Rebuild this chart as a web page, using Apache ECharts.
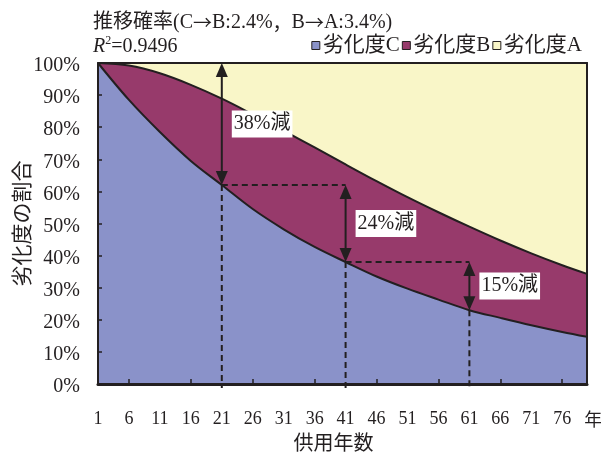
<!DOCTYPE html>
<html>
<head>
<meta charset="utf-8">
<script src="https://cdn.jsdelivr.net/npm/echarts@6/dist/echarts.min.js"></script>
<style>
  html, body { margin: 0; padding: 0; background: #fff; }
  #chart { width: 601px; height: 454px; }
</style>
</head>
<body>
<div id="chart"></div>
<script>
// 供用年数（年）
const years = [1, 6, 11, 16, 21, 26, 31, 36, 41, 46, 51, 56, 61, 66, 71, 76, 80];
// 劣化度ごとの割合（%）— 下から C, B, A の順に積み上げ
const gradeC = [100, 88.5, 78.5, 69.5, 62, 54.5, 48.2, 42.7, 38, 33.5, 29.7, 26.3, 23, 20.6, 18.3, 16.2, 14.7];
const gradeB = [0, 10.7, 18.3, 23.7, 26.9, 29.5, 30.7, 31.0, 30.4, 29.7, 28.5, 27.2, 26.0, 24.1, 22.4, 20.8, 19.6];
const gradeA = [0, 0.8, 3.2, 6.8, 11.1, 16.0, 21.1, 26.3, 31.6, 36.8, 41.8, 46.5, 51.0, 55.3, 59.3, 63.0, 65.7];
// 目盛ラベル
const xLabelYears = [1, 6, 11, 16, 21, 26, 31, 36, 41, 46, 51, 56, 61, 66, 71, 76];
const xTickYears = [6, 16, 26, 36, 46, 56, 66, 76];
// 劣化度Cの減少量を示す年
const markYears = [21, 41, 61];

const INK = '#231F20';
const SERIF = "'Liberation Serif', 'Noto Sans CJK JP', serif";
const CJK = "'Noto Sans CJK JP', 'Liberation Serif', sans-serif";

// 積み上げた上端（C, C+B, C+B+A）
const topC = gradeC.slice();
const topB = gradeC.map((v, i) => v + gradeB[i]);
const topA = topB.map((v, i) => v + gradeA[i]);
const pairs = arr => years.map((y, i) => [y, +arr[i].toFixed(2)]);

const levels = [100].concat(markYears.map(y => gradeC[years.indexOf(y)]));
const markData = markYears.map((y, i) => [
  y, levels[i], levels[i + 1], i < markYears.length - 1 ? markYears[i + 1] : y
]);

const chart = echarts.init(document.getElementById('chart'), null, { renderer: 'canvas' });

function areaSeries(name, data, fill, z) {
  return {
    name, type: 'line', data: pairs(data),
    smooth: 0.35, showSymbol: false, symbol: 'none', z,
    color: fill,
    itemStyle: { color: fill },
    lineStyle: { color: INK, width: 2 },
    areaStyle: { color: fill, opacity: 1, origin: 'start' },
    emphasis: { disabled: true }
  };
}

const dashed = { stroke: INK, lineWidth: 2, lineDash: [6, 4] };
const plain = { fontFamily: SERIF, fontSize: 20, fontWeight: 'normal', color: INK, lineHeight: 24 };

chart.setOption({
  animation: false,
  backgroundColor: '#fff',
  title: {
    left: 88, top: 6,
    text: '{a|推移確率(C}{r|→}{a|B:2.4%}{r|，}{a|B}{r|→}{a|A:3.4%)}\n{i|R}{s|2}{a|=0.9496}',
    textStyle: {
      fontWeight: 'normal',
      rich: {
        a: plain,
        r: Object.assign({}, plain, { fontFamily: CJK, fontSize: 19 }),
        i: Object.assign({}, plain, { fontStyle: 'italic' }),
        s: Object.assign({}, plain, { fontSize: 12, verticalAlign: 'top', padding: [0, 0, 8, 0] })
      }
    }
  },
  legend: {
    right: 14, top: 30,
    icon: 'rect', itemWidth: 8, itemHeight: 8, itemGap: 2,
    itemStyle: { borderColor: INK, borderWidth: 1 },
    textStyle: { fontFamily: SERIF, fontSize: 21, color: INK, padding: [0, 0, 0, -2] },
    data: ['劣化度C', '劣化度B', '劣化度A']
  },
  grid: { left: 98, right: 14, top: 63, bottom: 70, containLabel: false, outerBoundsMode: 'none' },
  xAxis: [{
    type: 'value', min: 1, max: 80, z: 10,
    name: '供用年数', nameLocation: 'middle', nameGap: 46,
    nameTextStyle: { fontFamily: CJK, fontSize: 20, color: INK, padding: [0, 18, 0, 0] },
    axisLine: { show: true, lineStyle: { color: INK, width: 3 } },
    axisTick: { show: true, inside: true, length: 5, customValues: xTickYears, lineStyle: { color: INK, width: 1.5 } },
    axisLabel: { customValues: xLabelYears, margin: 26, fontFamily: SERIF, fontSize: 18, color: INK },
    splitLine: { show: false }
  }, {
    type: 'value', min: 1, max: 80, position: 'top', z: 10,
    axisLine: { show: true, onZero: false, lineStyle: { color: INK, width: 2 } },
    axisTick: { show: false }, axisLabel: { show: false }, splitLine: { show: false }
  }],
  yAxis: [{
    type: 'value', min: 0, max: 100, interval: 10, z: 10,
    name: '劣化度の割合', nameLocation: 'middle', nameGap: 66, nameRotate: 90, nameMoveOverlap: false,
    nameTextStyle: { fontFamily: CJK, fontSize: 21, color: INK },
    axisLine: { show: true, lineStyle: { color: INK, width: 2 } },
    axisTick: { show: true, inside: true, length: 4, lineStyle: { color: INK, width: 1.5 } },
    axisLabel: {
      formatter: v => '{v|' + v + '%}', margin: 18,
      rich: { v: { fontFamily: SERIF, fontSize: 20, color: INK, padding: [6, 0, 0, 0] } }
    },
    splitLine: { show: false }
  }, {
    type: 'value', min: 0, max: 100, position: 'right', z: 10,
    axisLine: { show: true, onZero: false, lineStyle: { color: INK, width: 2 } },
    axisTick: { show: false }, axisLabel: { show: false }, splitLine: { show: false }
  }],
  series: [
    areaSeries('劣化度A', topA, '#F9F6C8', 2),
    areaSeries('劣化度B', topB, '#973A6B', 3),
    areaSeries('劣化度C', topC, '#8A92C9', 4),
    {
      type: 'custom', z: 8, silent: true, clip: false,
      data: markData,
      encode: { x: 0, y: 1 },
      renderItem(params, api) {
        const x = api.value(0), top = api.value(1), bot = api.value(2), nx = api.value(3);
        const pTop = api.coord([x, top]);
        const pBot = api.coord([x, bot]);
        const pZero = api.coord([x, 0]);
        const pNext = api.coord([nx, bot]);
        const hw = 6, hh = 14;
        const children = [
          { type: 'line', shape: { x1: pBot[0], y1: pBot[1], x2: pZero[0], y2: pZero[1] + 4 }, style: dashed }
        ];
        if (nx !== x) {
          children.push({ type: 'line', shape: { x1: pBot[0], y1: pBot[1], x2: pNext[0], y2: pNext[1] }, style: dashed });
        }
        children.push(
          { type: 'line', shape: { x1: pTop[0], y1: pTop[1] + hh - 2, x2: pBot[0], y2: pBot[1] - hh + 2 }, style: { stroke: INK, lineWidth: 2 } },
          { type: 'polygon', shape: { points: [[pTop[0], pTop[1]], [pTop[0] - hw, pTop[1] + hh], [pTop[0] + hw, pTop[1] + hh]] }, style: { fill: INK } },
          { type: 'polygon', shape: { points: [[pBot[0], pBot[1]], [pBot[0] - hw, pBot[1] - hh], [pBot[0] + hw, pBot[1] - hh]] }, style: { fill: INK } },
          {
            type: 'text', x: pTop[0] + 10, y: (pTop[1] + pBot[1]) / 2,
            style: {
              text: Math.round(top - bot) + '%減',
              font: '20px ' + SERIF, fill: INK,
              align: 'left', verticalAlign: 'middle',
              backgroundColor: '#fff', padding: [4, 2, 3, 2]
            }
          }
        );
        return { type: 'group', children };
      }
    }
  ]
});

// 横軸末尾の単位「年」
const unitX = chart.convertToPixel({ xAxisIndex: 0 }, 81);
const axisY = chart.convertToPixel({ yAxisIndex: 0 }, 0);
chart.setOption({
  graphic: [{
    type: 'text', x: unitX, y: axisY + 26,
    style: { text: '年', font: '18px ' + CJK, fill: INK, align: 'center', verticalAlign: 'top' }
  }]
});
</script>
</body>
</html>
